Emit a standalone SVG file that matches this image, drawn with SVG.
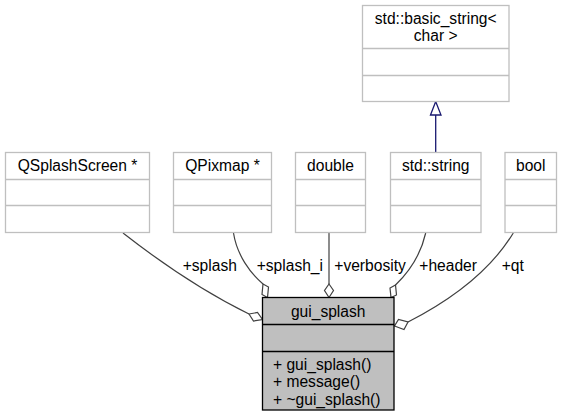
<svg xmlns="http://www.w3.org/2000/svg" width="562" height="416" viewBox="0 0 562 416">
<style>
text { font-family: "Liberation Sans", Arial, sans-serif; font-size: 15.6px; fill: #000; }
.c { text-anchor: middle; }
.box { fill: #ffffff; stroke: #bfbfbf; stroke-width: 1.3; }
.div { stroke: #bfbfbf; stroke-width: 1.3; fill: none; }
.main { fill: #bfbfbf; stroke: #000000; stroke-width: 1.3; }
.mdiv { stroke: #000000; stroke-width: 1.3; fill: none; }
.edge { fill: none; stroke: #404040; stroke-width: 1.2; }
.dia { fill: #ffffff; stroke: #404040; stroke-width: 1.2; }
.gen { fill: none; stroke: #191970; stroke-width: 1.3; }
.tri { fill: #ffffff; stroke: #191970; stroke-width: 1.3; }
</style>
<rect width="562" height="416" fill="#ffffff"/>
<g id="connectors">
  <path class="edge" d="M123,233 C155,258 200,290 249,314"/>
  <polygon class="dia" points="249,314 257.5,312.5 262.5,319.5 253.5,321"/>
  <path class="edge" d="M233.5,233 C237,255 250,273 263,284"/>
  <polygon class="dia" points="263,284 268.5,287 267.5,297.5 262,294.5"/>
  <path class="edge" d="M329,233 L329,284"/>
  <polygon class="dia" points="329,284 333.5,290.5 329,297.5 324.5,290.5"/>
  <path class="edge" d="M425.7,233 C420,258 407,274 395.5,285"/>
  <polygon class="dia" points="395.5,285 396.5,295 391,297.5 390,288"/>
  <path class="edge" d="M513.3,233 C492,268 455,298 408,322"/>
  <polygon class="dia" points="408,322 404,329.5 394.5,326 398.5,319.5"/>
  <line class="gen" x1="435.7" y1="152.5" x2="435.7" y2="115"/>
  <polygon class="tri" points="430.5,115 435.7,101.5 441,115"/>
</g>
<g id="node_basic_string">
  <rect class="box" x="362.5" y="5.5" width="146.5" height="96"/>
  <line class="div" x1="362.5" y1="48.5" x2="509" y2="48.5"/>
  <line class="div" x1="362.5" y1="75.5" x2="509" y2="75.5"/>
  <text class="c" x="435.7" y="24">std::basic_string&lt;</text>
  <text class="c" x="435.7" y="41">char &gt;</text>
</g>
<g id="node_QSplashScreen">
  <rect class="box" x="5.5" y="152.5" width="144" height="80"/>
  <line class="div" x1="5.5" y1="179.5" x2="149.5" y2="179.5"/>
  <line class="div" x1="5.5" y1="205.5" x2="149.5" y2="205.5"/>
  <text class="c" x="77.5" y="171">QSplashScreen *</text>
</g>
<g id="node_QPixmap">
  <rect class="box" x="173.5" y="152.5" width="98" height="80"/>
  <line class="div" x1="173.5" y1="179.5" x2="271.5" y2="179.5"/>
  <line class="div" x1="173.5" y1="205.5" x2="271.5" y2="205.5"/>
  <text class="c" x="222.5" y="171">QPixmap *</text>
</g>
<g id="node_double">
  <rect class="box" x="295.5" y="152.5" width="70" height="80"/>
  <line class="div" x1="295.5" y1="179.5" x2="365.5" y2="179.5"/>
  <line class="div" x1="295.5" y1="205.5" x2="365.5" y2="205.5"/>
  <text class="c" x="330.5" y="171">double</text>
</g>
<g id="node_std_string">
  <rect class="box" x="390.5" y="152.5" width="90.5" height="80"/>
  <line class="div" x1="390.5" y1="179.5" x2="481" y2="179.5"/>
  <line class="div" x1="390.5" y1="205.5" x2="481" y2="205.5"/>
  <text class="c" x="435.7" y="171">std::string</text>
</g>
<g id="node_bool">
  <rect class="box" x="505" y="152.5" width="51.5" height="80"/>
  <line class="div" x1="505" y1="179.5" x2="556.5" y2="179.5"/>
  <line class="div" x1="505" y1="205.5" x2="556.5" y2="205.5"/>
  <text class="c" x="530.7" y="171">bool</text>
</g>
<g id="node_gui_splash">
  <rect class="main" x="262.5" y="297.5" width="131.5" height="112.5"/>
  <line class="mdiv" x1="262.5" y1="324.5" x2="394" y2="324.5"/>
  <line class="mdiv" x1="262.5" y1="351.5" x2="394" y2="351.5"/>
  <text class="c" x="328.2" y="317">gui_splash</text>
  <text x="273" y="369.5">+ gui_splash()</text>
  <text x="273" y="387">+ message()</text>
  <text x="273" y="404.5">+ ~gui_splash()</text>
</g>
<g id="labels">
  <text x="182.7" y="270.5">+splash</text>
  <text x="256.7" y="270.5">+splash_i</text>
  <text x="334.3" y="270.5">+verbosity</text>
  <text x="419.3" y="270.5">+header</text>
  <text x="501.7" y="270.5">+qt</text>
</g>
</svg>
